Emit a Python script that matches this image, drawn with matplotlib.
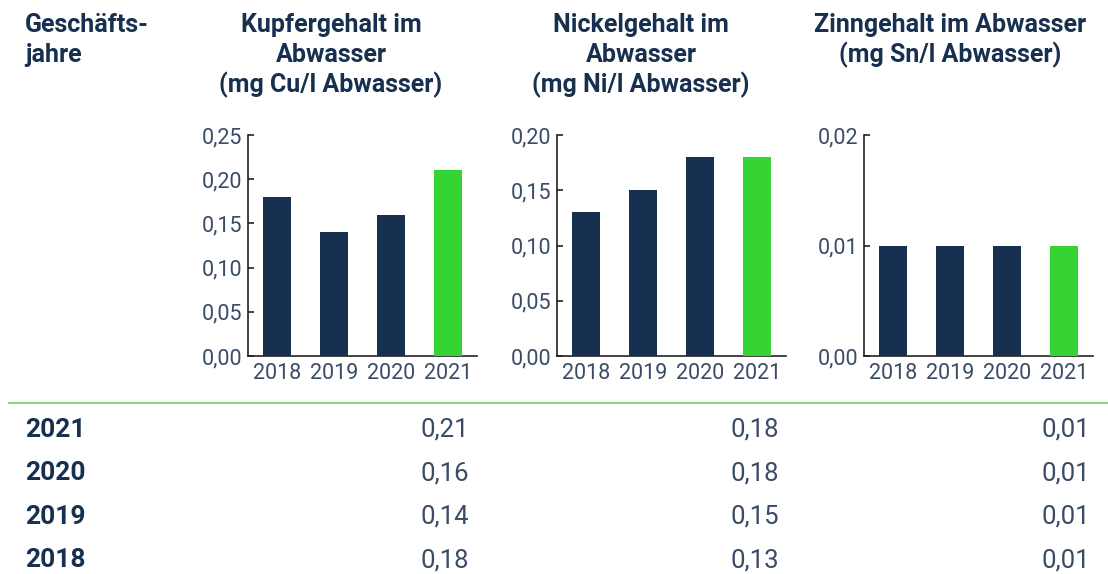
import matplotlib
matplotlib.use("Agg")
import matplotlib.pyplot as plt
from matplotlib.ticker import FixedLocator, FuncFormatter

# ---- data ----
years = ["2018", "2019", "2020", "2021"]
copper = [0.18, 0.14, 0.16, 0.21]
nickel = [0.13, 0.15, 0.18, 0.18]
tin = [0.01, 0.01, 0.01, 0.01]
table_years = ["2021", "2020", "2019", "2018"]

titles = [
    ["Kupfergehalt im", "Abwasser", "(mg Cu/l Abwasser)"],
    ["Nickelgehalt im", "Abwasser", "(mg Ni/l Abwasser)"],
    ["Zinngehalt im Abwasser", "(mg Sn/l Abwasser)"],
]
yticks_list = [
    [0.00, 0.05, 0.10, 0.15, 0.20, 0.25],
    [0.00, 0.05, 0.10, 0.15, 0.20],
    [0.00, 0.01, 0.02],
]
series = [copper, nickel, tin]

NAVY = "#17304f"
GREEN = "#36d334"
LINE_GREEN = "#6fd86c"
TICK_COL = "#3a4b66"
FONT = "Roboto"

W, H = 1108, 574
fig = plt.figure(figsize=(W / 100, H / 100), dpi=100)
fig.patch.set_facecolor("white")


def fx(x):
    return x / W


def fy(y):
    return 1 - y / H


axes_left = [248, 557, 864]
axes_w = 229
ax_top, ax_bot = 135, 356
title_cx = [331, 641, 950]
val_right = [469, 779, 1090]

for i in range(3):
    ax = fig.add_axes([fx(axes_left[i]), fy(ax_bot), axes_w / W, (ax_bot - ax_top) / H])
    vals = series[i]
    colors = [NAVY] * (len(vals) - 1) + [GREEN]
    ax.bar(range(len(vals)), vals, width=0.49, color=colors, zorder=3)
    ax.set_xlim(-0.51, len(vals) - 0.49)
    ax.set_ylim(0, yticks_list[i][-1])
    ax.yaxis.set_major_locator(FixedLocator(yticks_list[i]))
    ax.yaxis.set_major_formatter(FuncFormatter(lambda v, p: f"{v:.2f}".replace(".", ",")))
    ax.set_xticks(range(len(vals)))
    ax.set_xticklabels(years)
    for s in ["top", "right"]:
        ax.spines[s].set_visible(False)
    for s in ["left", "bottom"]:
        ax.spines[s].set_color("#222222")
        ax.spines[s].set_linewidth(1.2)
    ax.tick_params(axis="y", direction="in", length=4, width=1.2, color="#222222",
                   labelsize=15.5, labelcolor=TICK_COL, pad=4)
    ax.tick_params(axis="x", length=0, labelsize=15.5, labelcolor=TICK_COL, pad=5)
    for lab in ax.get_xticklabels() + ax.get_yticklabels():
        lab.set_fontfamily(FONT)
    ax.set_facecolor("none")

    # titles
    for j, line in enumerate(titles[i]):
        fig.text(fx(title_cx[i]), fy(32 + 30 * j), line, ha="center", va="baseline",
                 fontsize=18, fontweight="bold", color=NAVY, family=FONT)

    # table values
    for r, yr in enumerate(table_years):
        v = vals[years.index(yr)]
        fig.text(fx(val_right[i]), fy(437 + 43.4 * r), f"{v:.2f}".replace(".", ","),
                 ha="right", va="baseline", fontsize=18.5, color=TICK_COL, family=FONT)

# left header
fig.text(fx(25), fy(32), "Geschäfts-", ha="left", va="baseline", fontsize=18,
         fontweight="bold", color=NAVY, family=FONT)
fig.text(fx(25), fy(62), "jahre", ha="left", va="baseline", fontsize=18,
         fontweight="bold", color=NAVY, family=FONT)

# table years
for r, yr in enumerate(table_years):
    fig.text(fx(25), fy(437 + 43.4 * r), yr, ha="left", va="baseline", fontsize=19,
             fontweight="bold", color=NAVY, family=FONT)

# separator line
fig.add_artist(plt.Line2D([fx(9), fx(1108)], [fy(403), fy(403)], color=LINE_GREEN,
                          linewidth=1.3, transform=fig.transFigure))

fig.savefig("out.png", dpi=100, facecolor="white")
